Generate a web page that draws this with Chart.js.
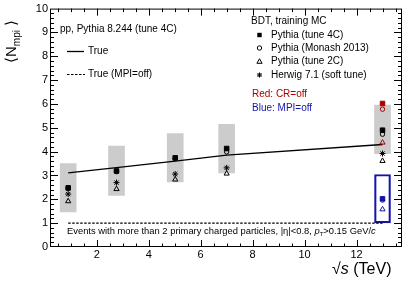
<!DOCTYPE html>
<html>
<head>
<meta charset="utf-8">
<script src="https://cdn.jsdelivr.net/npm/chart.js@4/dist/chart.umd.min.js"></script>
<style>
  html, body { margin: 0; padding: 0; background: #fff; }
  canvas { display: block; }
</style>
</head>
<body>
<canvas id="c" width="415" height="281"></canvas>
<script>
// collision energies (TeV)
const energies = [0.9, 2.76, 5.02, 7, 13];

// true <N_mpi> from generator
const trueNmpi = [3.11, 3.33, 3.6, 3.85, 4.3];
const trueMpiOff = [1, 1, 1, 1, 1];

// grey band (spread of BDT predictions)
const bandLow = [1.47, 2.16, 2.73, 3.11, 3.92];
const bandHigh = [3.5, 4.23, 4.76, 5.15, 5.95];

// BDT predictions, training MC
const tune4C = [2.48, 3.19, 3.74, 4.13, 4.9];
const monash = [2.46, 3.16, 3.71, 3.99, 4.73];
const tune2C = [1.92, 2.43, 2.83, 3.08, 3.61];
const herwig = [2.22, 2.7, 3.06, 3.32, 3.92];

// 13 TeV variations
const variantX = [13];
const crOff4C = [6.02];
const crOffMonash = [5.78];
const crOff2C = [4.38];
const mpiOff4C = [2.02];
const mpiOffMonash = [1.97];
const mpiOff2C = [1.58];
const mpiOffBand = [1.01, 3.04];

// axes
const xMin = 0.2, xMax = 13.75;
const yMin = 0, yMax = 10;
const xTickValues = [2, 4, 6, 8, 10, 12];
const yTickValues = [0, 1, 2, 3, 4, 5, 6, 7, 8, 9, 10];

const RED = 'rgb(170,0,0)';
const BLUE = 'rgb(20,20,170)';
const FONT = '"Liberation Sans", Arial, sans-serif';

const pts = (xs, ys) => xs.map((x, i) => ({ x: x, y: ys[i] }));

function markers(label, ys, style, color, xs) {
  const open = style !== 'rect';
  const r = { rect: 3.2, circle: 2.2, triangle: 3, star: 3 }[style];
  return {
    type: 'line', label: label, data: pts(xs || energies, ys), showLine: false,
    pointStyle: style, pointRadius: r, pointBorderWidth: 1,
    pointBackgroundColor: open ? 'rgba(0,0,0,0)' : color,
    pointBorderColor: color, order: 0
  };
}

function drawMark(ctx, s, x, y, color) {
  ctx.save();
  ctx.strokeStyle = color; ctx.fillStyle = color; ctx.lineWidth = 1;
  ctx.beginPath();
  if (s === 'rect') {
    ctx.fillRect(x - 2.2, y - 2.2, 4.4, 4.4);
  } else if (s === 'circle') {
    ctx.arc(x, y, 2.2, 0, Math.PI * 2); ctx.stroke();
  } else if (s === 'triangle') {
    ctx.moveTo(x, y - 2.8); ctx.lineTo(x + 2.6, y + 1.8); ctx.lineTo(x - 2.6, y + 1.8);
    ctx.closePath(); ctx.stroke();
  } else {
    ctx.moveTo(x - 2.5, y); ctx.lineTo(x + 2.5, y);
    ctx.moveTo(x, y - 2.5); ctx.lineTo(x, y + 2.5);
    ctx.moveTo(x - 2, y - 2); ctx.lineTo(x + 2, y + 2);
    ctx.moveTo(x - 2, y + 2); ctx.lineTo(x + 2, y - 2);
    ctx.stroke();
  }
  ctx.restore();
}

// writes pieces of text one after another (for italics / subscripts)
function textRun(ctx, x, y, parts) {
  parts.forEach(([t, f, dy]) => {
    ctx.font = f;
    ctx.fillText(t, x, y + (dy || 0));
    x += ctx.measureText(t).width;
  });
}

// ROOT-like frame, inside ticks and annotation texts
const decor = {
  id: 'decor',
  afterDraw(chart) {
    const ctx = chart.ctx;
    const a = chart.chartArea;
    const xs = chart.scales.x, ys = chart.scales.y;
    ctx.save();
    ctx.strokeStyle = '#000';
    ctx.lineWidth = 1;
    ctx.strokeRect(a.left + 0.5, a.top + 0.5, a.right - a.left - 1, a.bottom - a.top - 1);

    ctx.beginPath();
    for (let v = 0.5; v < xMax; v += 0.5) {
      if (v < xMin) continue;
      const p = Math.round(xs.getPixelForValue(v)) + 0.5;
      const len = v % 2 === 0 ? 7 : 3.5;
      ctx.moveTo(p, a.bottom); ctx.lineTo(p, a.bottom - len);
      ctx.moveTo(p, a.top); ctx.lineTo(p, a.top + len);
    }
    for (let k = 1; k * 0.2 < yMax; k++) {
      const v = k * 0.2;
      const p = Math.round(ys.getPixelForValue(v)) + 0.5;
      const len = k % 5 === 0 ? 8 : 4;
      ctx.moveTo(a.left, p); ctx.lineTo(a.left + len, p);
      ctx.moveTo(a.right, p); ctx.lineTo(a.right - len, p);
    }
    ctx.stroke();

    ctx.fillStyle = '#000';
    ctx.textBaseline = 'middle';
    ctx.textAlign = 'left';
    ctx.font = '10px ' + FONT;
    ctx.fillText('pp, Pythia 8.244 (tune 4C)', 60, 29);
    ctx.fillText('True', 88, 51);
    ctx.fillText('True (MPI=off)', 88, 74);
    ctx.beginPath();
    ctx.lineWidth = 1.3;
    ctx.moveTo(67, 51.5); ctx.lineTo(84, 51.5);
    ctx.stroke();
    ctx.beginPath();
    ctx.lineWidth = 1.2;
    ctx.setLineDash([2.5, 1.5]);
    ctx.moveTo(67, 74.5); ctx.lineTo(85, 74.5);
    ctx.stroke();
    ctx.setLineDash([]);

    ctx.fillText('BDT, training MC', 251, 21.5);
    const rows = [
      ['Pythia (tune 4C)', 'rect', 35],
      ['Pythia (Monash 2013)', 'circle', 48],
      ['Pythia (tune 2C)', 'triangle', 61.5],
      ['Herwig 7.1 (soft tune)', 'star', 75]
    ];
    rows.forEach(([txt, s, y]) => {
      drawMark(ctx, s, 259.5, y, '#000');
      ctx.fillStyle = '#000';
      ctx.font = '10px ' + FONT;
      ctx.fillText(txt, 271, y);
    });
    ctx.fillStyle = RED;
    ctx.fillText('Red: CR=off', 252, 94);
    ctx.fillStyle = BLUE;
    ctx.fillText('Blue: MPI=off', 252, 108);

    // selection note
    ctx.fillStyle = '#000';
    const f9 = '9.4px ' + FONT, i9 = 'italic 9.4px ' + FONT;
    textRun(ctx, 67, 231.5, [
      ['Events with more than 2 primary charged particles, |\u03b7|<0.8, ', f9],
      ['p', i9], ['T', '6px ' + FONT, 3], ['>0.15 GeV/', f9], ['c', i9]
    ]);

    // x title
    textRun(ctx, 332, 270, [
      ['\u221A', '16px ' + FONT], ['s', 'italic 16px ' + FONT], [' (TeV)', '16px ' + FONT]
    ]);

    // y title, rotated
    ctx.save();
    ctx.translate(16, 63);
    ctx.rotate(-Math.PI / 2);
    ctx.textBaseline = 'alphabetic';
    textRun(ctx, 0, 0, [
      ['\u27E8', '15px ' + FONT], ['N', '15px ' + FONT], ['mpi', '10px ' + FONT, 4],
      [' \u27E9', '15px ' + FONT]
    ]);
    ctx.restore();
    ctx.restore();
  }
};

new Chart(document.getElementById('c'), {
  type: 'bar',
  data: {
    datasets: [
      {
        label: 'spread', data: energies.map((e, i) => ({ x: e, y: [bandLow[i], bandHigh[i]] })),
        backgroundColor: 'rgb(204,204,204)', borderWidth: 0, barThickness: 16,
        grouped: false, order: 3
      },
      {
        label: 'MPI=off spread', data: [{ x: variantX[0], y: mpiOffBand }],
        backgroundColor: 'rgba(0,0,0,0)', borderColor: BLUE, borderWidth: 1.5,
        borderSkipped: false, barThickness: 16, grouped: false, order: 2
      },
      {
        type: 'line', label: 'True', data: pts(energies, trueNmpi),
        borderColor: '#000', borderWidth: 1.3, pointRadius: 0, order: 1
      },
      {
        type: 'line', label: 'True (MPI=off)', data: pts(energies, trueMpiOff),
        borderColor: '#000', borderWidth: 1.2, borderDash: [2.5, 1.5], pointRadius: 0, order: 1
      },
      markers('Pythia (tune 4C)', tune4C, 'rect', '#000'),
      markers('Pythia (Monash 2013)', monash, 'circle', '#000'),
      markers('Pythia (tune 2C)', tune2C, 'triangle', '#000'),
      markers('Herwig 7.1 (soft tune)', herwig, 'star', '#000'),
      markers('4C CR=off', crOff4C, 'rect', RED, variantX),
      markers('Monash CR=off', crOffMonash, 'circle', RED, variantX),
      markers('2C CR=off', crOff2C, 'triangle', RED, variantX),
      markers('4C MPI=off', mpiOff4C, 'rect', BLUE, variantX),
      markers('Monash MPI=off', mpiOffMonash, 'circle', BLUE, variantX),
      markers('2C MPI=off', mpiOff2C, 'triangle', BLUE, variantX)
    ]
  },
  options: {
    responsive: false,
    animation: false,
    devicePixelRatio: 1,
    layout: { padding: { left: 0, right: 13, top: 8.5, bottom: 0 } },
    plugins: { legend: { display: false }, tooltip: { enabled: false } },
    scales: {
      x: {
        type: 'linear', min: xMin, max: xMax, offset: false,
        grid: { display: false, drawTicks: false, tickLength: 0 }, border: { display: false },
        afterBuildTicks: s => { s.ticks = xTickValues.map(v => ({ value: v })); },
        afterFit: s => { s.height = 34; },
        ticks: { font: { size: 11, family: FONT }, color: '#000', padding: 1, maxRotation: 0 }
      },
      y: {
        min: yMin, max: yMax,
        grid: { display: false, drawTicks: false, tickLength: 0 }, border: { display: false },
        afterBuildTicks: s => { s.ticks = yTickValues.map(v => ({ value: v })); },
        afterFit: s => { s.width = 50; },
        ticks: { font: { size: 11, family: FONT }, color: '#000', padding: 2 }
      }
    }
  },
  plugins: [decor]
});
</script>
</body>
</html>
